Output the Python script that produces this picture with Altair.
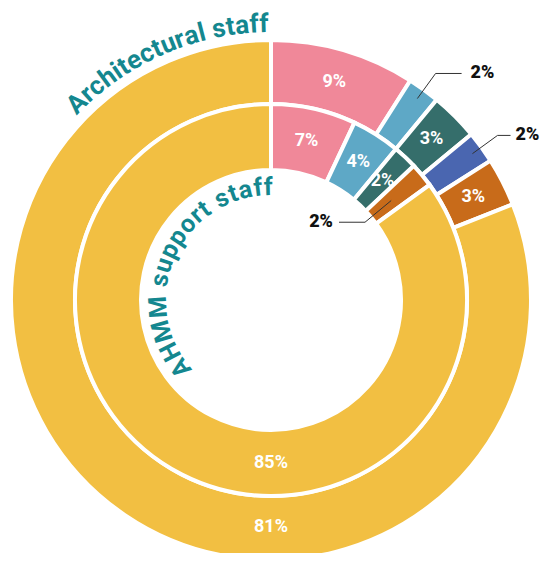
import math
import altair as alt
import pandas as pd

# ---------------- data ----------------
outer_groups = ["Pink", "Light blue", "Teal", "Blue", "Orange", "Yellow"]
outer_values = [9, 2, 3, 2, 3, 81]
outer_callouts = ["Light blue", "Blue"]

inner_groups = ["Pink", "Light blue", "Teal", "Orange", "Yellow"]
inner_values = [7, 4, 2, 2, 85]
inner_callouts = ["Orange"]

outer_title = "Architectural staff"
inner_title = "AHMM support staff"

palette = {
    "Pink": "#F08899",
    "Light blue": "#5EA8C6",
    "Teal": "#356E6B",
    "Blue": "#4A66B0",
    "Orange": "#C86B1A",
    "Yellow": "#F2BF42",
}
TITLE_COLOR = "#14878F"

# ---------------- layout ----------------
W, H = 538, 545
CX, CY = 263, 292
TWO_PI = 2 * math.pi
OUT_R0, OUT_R1 = 196, 260
IN_R0, IN_R1 = 130, 196
# horizontal leader length per callout (style)
LEADER_DX = {"Light blue": 26, "Blue": 13, "Orange": -26}
LEADER_GAP = {"Light blue": 9, "Blue": 5, "Orange": -6}


def polar(r, th):
    return CX + r * math.sin(th), CY - r * math.cos(th)


def ring_df(groups, values):
    total = sum(values)
    rows, cum = [], 0
    for g, v in zip(groups, values):
        t0 = cum / total * TWO_PI
        cum += v
        t1 = cum / total * TWO_PI
        rows.append(dict(group=g, value=v, t0=t0, t1=t1, mid=(t0 + t1) / 2,
                         color=palette[g], label=f"{v}%"))
    return pd.DataFrame(rows)


outer_df = ring_df(outer_groups, outer_values)
inner_df = ring_df(inner_groups, inner_values)


def inside_labels(df, callouts, r):
    rows = []
    big = df["value"].max()
    for _, row in df.iterrows():
        if row["group"] in callouts:
            continue
        th = math.pi if row["value"] == big else row["mid"]
        x, y = polar(r, th)
        rows.append(dict(x=x, y=y, label=row["label"]))
    return rows


def callout_parts(df, callouts, r1, r2):
    lines, texts = [], []
    for _, row in df.iterrows():
        g = row["group"]
        if g not in callouts:
            continue
        x1, y1 = polar(r1, row["mid"])
        x2, y2 = polar(r2, row["mid"])
        dx, gap = LEADER_DX[g], LEADER_GAP[g]
        lines.append(dict(x=x1, y=y1, x2=x2, y2=y2))
        lines.append(dict(x=x2, y=y2, x2=x2 + dx, y2=y2))
        texts.append(dict(x=x2 + dx + gap, y=y2, label=row["label"]))
    return lines, texts


white_df = pd.DataFrame(inside_labels(outer_df, outer_callouts, 227)
                        + inside_labels(inner_df, inner_callouts, 163))

l1, t1 = callout_parts(outer_df, outer_callouts, 249, 280)
l2, t2 = callout_parts(inner_df, inner_callouts, 156, 122)
lines_df = pd.DataFrame(l1 + l2)
right_df = pd.DataFrame(t1)
left_df = pd.DataFrame(t2)

# Roboto Bold advance widths (em)
WIDTHS = {"A": .663, "H": .695, "M": .869, " ": .243, "a": .534, "c": .522,
          "e": .527, "f": .348, "h": .546, "i": .251, "l": .251, "o": .56,
          "p": .549, "r": .346, "s": .517, "t": .332, "u": .546}


def arc_text(text, r, deg_start, deg_end, size):
    th0, th1 = math.radians(deg_start), math.radians(deg_end)
    natural = sum(WIDTHS.get(c, .55) for c in text) * size
    spacing = (r * (th1 - th0) - natural) / (len(text) - 1)
    rows, s = [], 0.0
    for i, c in enumerate(text):
        w = WIDTHS.get(c, .55) * size
        centre = s + w / 2 + i * spacing
        s += w
        if c == " ":
            continue
        th = th0 + centre / r
        x, y = polar(r, th)
        rows.append(dict(ch=c, x=x, y=y, ang=math.degrees(th) % 360))
    return pd.DataFrame(rows)


outer_title_df = arc_text(outer_title, 268, -46.5, -0.5, 26)
inner_title_df = arc_text(inner_title, 105, -131.5, 1, 25)

# ---------------- charts ----------------
def ring(df, r0, r1):
    return alt.Chart(df).mark_arc(radius=r1, radius2=r0, stroke="white",
                                  strokeWidth=4).encode(
        theta=alt.Theta("t0:Q", scale=None),
        theta2="t1:Q",
        color=alt.Color("color:N", scale=None),
        x=alt.value(CX),
        y=alt.value(CY),
    )


def xy():
    return dict(x=alt.X("x:Q", scale=None, axis=None),
                y=alt.Y("y:Q", scale=None, axis=None))


outer_ring = ring(outer_df, OUT_R0, OUT_R1)
inner_ring = ring(inner_df, IN_R0, IN_R1)

white_text = alt.Chart(white_df).mark_text(
    font="Roboto", fontWeight="bold", fontSize=18, color="white",
    align="center", baseline="middle").encode(text="label:N", **xy())

leaders = alt.Chart(lines_df).mark_rule(color="#333333", strokeWidth=1).encode(
    x=alt.X("x:Q", scale=None, axis=None), y=alt.Y("y:Q", scale=None, axis=None),
    x2="x2:Q", y2="y2:Q")

right_text = alt.Chart(right_df).mark_text(
    font="Roboto", fontWeight=900, fontSize=18, color="#111111",
    align="left", baseline="middle").encode(text="label:N", **xy())

left_text = alt.Chart(left_df).mark_text(
    font="Roboto", fontWeight=900, fontSize=18, color="#111111",
    align="right", baseline="middle").encode(text="label:N", **xy())


def title_layer(df, size):
    return alt.Chart(df).mark_text(
        font="Roboto", fontWeight="bold", fontSize=size, color=TITLE_COLOR,
        align="center", baseline="alphabetic").encode(
        text="ch:N", angle=alt.Angle("ang:Q", scale=None), **xy())


chart = alt.layer(
    outer_ring, inner_ring, white_text, leaders, right_text, left_text,
    title_layer(outer_title_df, 26), title_layer(inner_title_df, 25),
).properties(
    width=W, height=H, padding=0,
    autosize=alt.AutoSizeParams(type="none"),
).configure_view(stroke=None)

chart.save("out.html", embed_options={"renderer": "svg", "actions": False})
